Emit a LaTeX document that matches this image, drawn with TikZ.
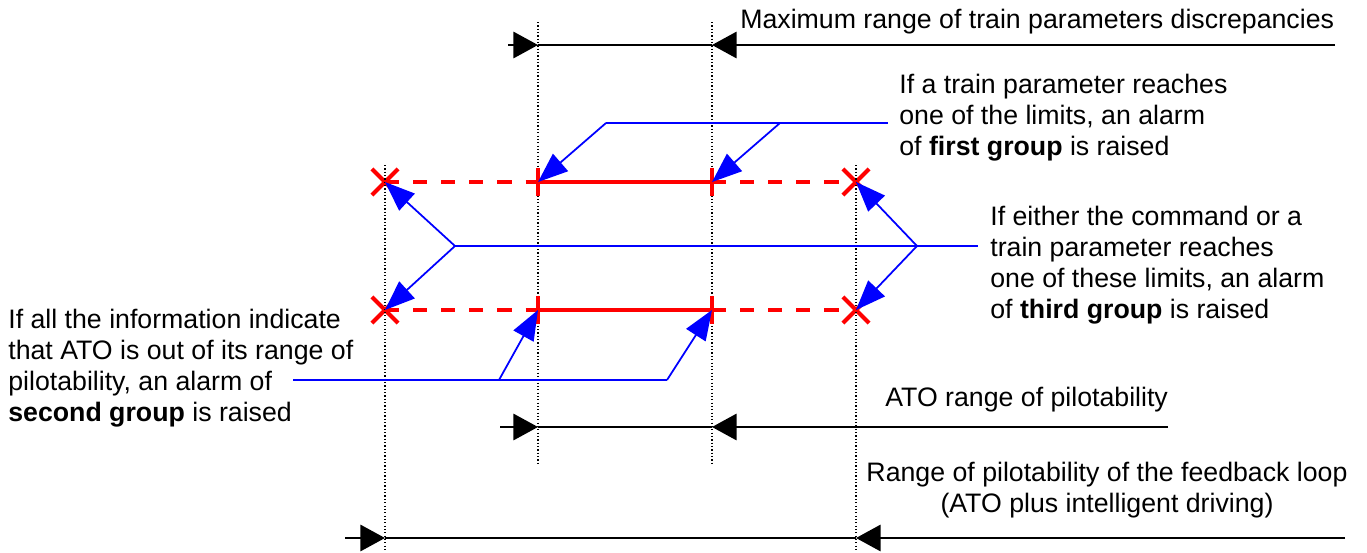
\documentclass[tikz,border=0pt]{standalone}
\usepackage{fontspec}
\setmainfont{Liberation Sans}
\usetikzlibrary{arrows.meta,shapes.misc}

\begin{document}
\begin{tikzpicture}[x=0.02cm,y=-0.02cm,>={Triangle[length=14pt,width=15pt]},
   guide/.style={line width=0.6pt,dash pattern=on 0.7pt off 1.2pt},
   span/.style={line width=1.1pt},
   limit/.style={red,line width=2.4pt},
   xmark/.style={cross out,draw,red,line width=2.4pt,minimum size=0.44cm,inner sep=0pt},
   note/.style={blue,line width=1pt,-{Triangle[length=17pt,width=13pt]}},
   txt/.style={inner sep=0pt,align=left,font=\fontsize{15.2}{17.6}\selectfont}]
 \useasboundingbox (0,0) rectangle (1367,552);
 % limits on the two rows (explicit coordinates)
 \node[xmark] (xa) at (385,182) {};
 \coordinate (ta) at (538,182);
 \coordinate (tb) at (712,182);
 \node[xmark] (xb) at (856,182) {};
 \node[xmark] (xc) at (385,310) {};
 \coordinate (tc) at (538,310);
 \coordinate (td) at (712,310);
 \node[xmark] (xd) at (856,310) {};
 % dotted guides
 \draw[guide] (538,22) -- (538,465);
 \draw[guide] (712,22) -- (712,465);
 \draw[guide] (385,165) -- (385,552);
 \draw[guide] (856,165) -- (856,552);
 % red limit lines
 \draw[limit,dash pattern=on 8pt off 8pt] (xa.center) -- (ta);
 \draw[limit] (ta) -- (tb);
 \draw[limit,dash pattern=on 8pt off 8pt] (tb) -- (xb.center);
 \draw[limit,dash pattern=on 8pt off 8pt] (xc.center) -- (tc);
 \draw[limit] (tc) -- (td);
 \draw[limit,dash pattern=on 8pt off 8pt] (td) -- (xd.center);
 \foreach \t in {ta,tb,tc,td}
   \draw[limit] (\t) ++(0,-14) -- ++(0,28);
 % texts
 \node[txt,anchor=west] (maxtxt) at (740,22) {Maximum range of train parameters discrepancies};
 \node[txt,anchor=west] (firsttxt) at (899,118) {If a train parameter reaches\\one of the limits, an alarm\\of \textbf{first group} is raised};
 \node[txt,anchor=west] (thirdtxt) at (990,265) {If either the command or a\\train parameter reaches\\one of these limits, an alarm\\of \textbf{third group} is raised};
 \node[txt,anchor=west] (secondtxt) at (8,368) {If all the information indicate\\that ATO is out of its range of\\pilotability, an alarm of\\\textbf{second group} is raised};
 \node[txt,anchor=west] (atotxt) at (885,400) {ATO range of pilotability};
 \node[txt,align=center] (looptxt) at (1107,490) {Range of pilotability of the feedback loop\\(ATO plus intelligent driving)};
 % first group pointers
 \coordinate (h1) at (606,123);
 \coordinate (h2) at (780,123);
 \coordinate (e1) at (888,123);
 \draw[note,-] (h1) -- (e1);
 \draw[note] (h1) -- (ta);
 \draw[note] (h2) -- (tb);
 % third group pointers
 \coordinate (h3) at (455,246);
 \coordinate (h4) at (917,246);
 \coordinate (e3) at (978,246);
 \draw[note,-] (h3) -- (e3);
 \draw[note] (h3) -- (xa.center);
 \draw[note] (h3) -- (xc.center);
 \draw[note] (h4) -- (xb.center);
 \draw[note] (h4) -- (xd.center);
 % second group pointers
 \coordinate (e5) at (293,380);
 \coordinate (h5) at (499,380);
 \coordinate (h6) at (667,380);
 \draw[note,-] (e5) -- (h6);
 \draw[note] (h5) -- (tc);
 \draw[note] (h6) -- (td);
 % black ranges
 \coordinate (r1) at (508,45);   \coordinate (r2) at (538,45);
 \coordinate (r3) at (712,45);   \coordinate (r4) at (1335,45);
 \draw[span,->] (r1) -- (r2);
 \draw[span] (r2) -- (r3);
 \draw[span,->] (r4) -- (r3);
 \coordinate (a1) at (500,427);  \coordinate (a2) at (538,427);
 \coordinate (a3) at (712,427);  \coordinate (a4) at (1168,427);
 \draw[span,->] (a1) -- (a2);
 \draw[span] (a2) -- (a3);
 \draw[span,->] (a4) -- (a3);
 \coordinate (b1) at (345,538);  \coordinate (b2) at (385,538);
 \coordinate (b3) at (856,538);  \coordinate (b4) at (1345,538);
 \draw[span,->] (b1) -- (b2);
 \draw[span] (b2) -- (b3);
 \draw[span,->] (b4) -- (b3);
\end{tikzpicture}
\end{document}
